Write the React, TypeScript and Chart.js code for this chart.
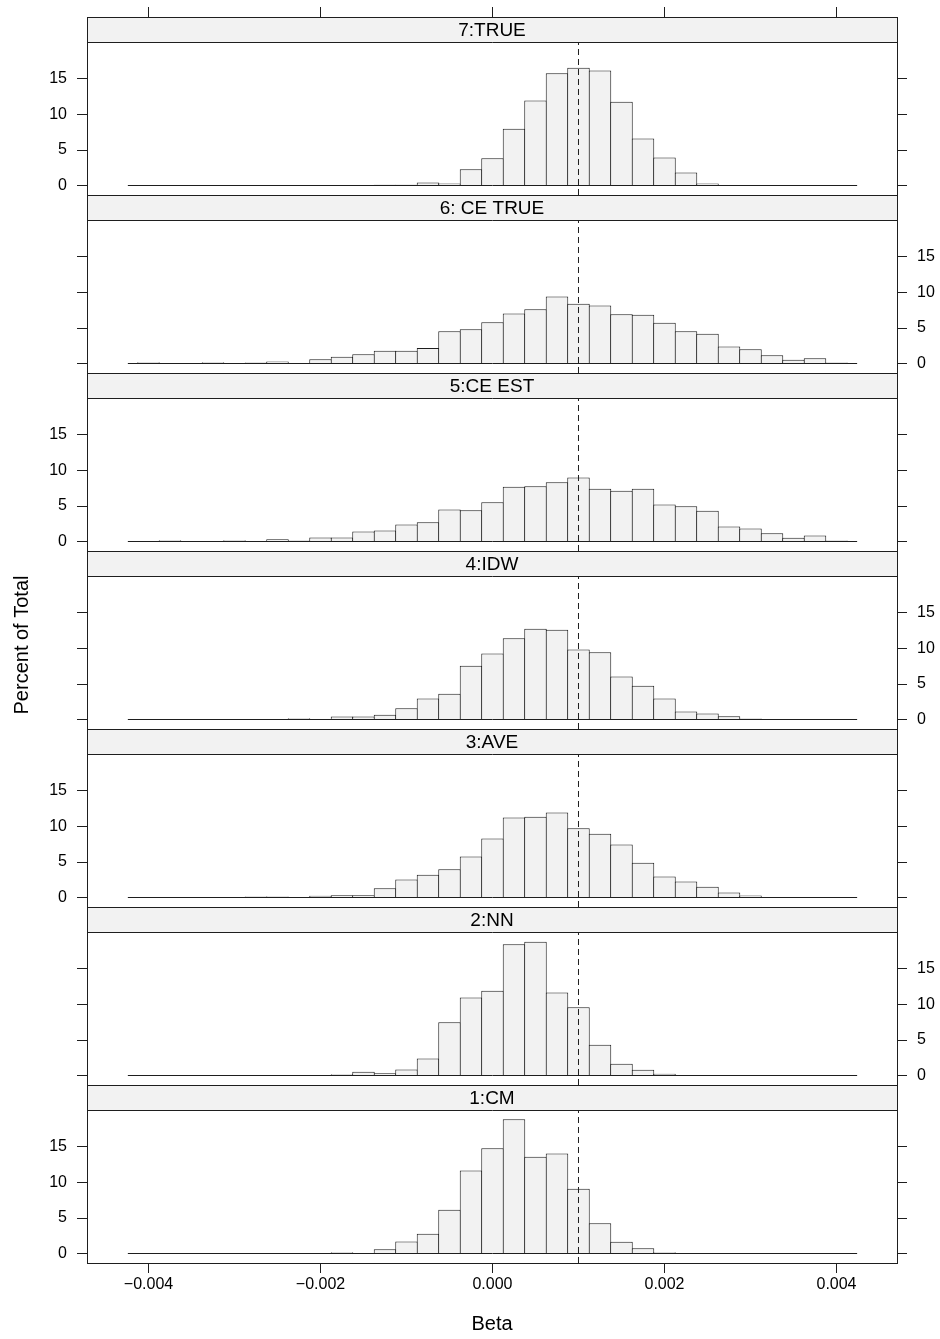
import React, { useEffect, useRef } from 'react';
import { Chart, registerables } from 'chart.js';

Chart.register(...registerables);

// ---------------- data ----------------
const panelNames = ['7:TRUE', '6: CE TRUE', '5:CE EST', '4:IDW', '3:AVE', '2:NN', '1:CM'];

const binCenters = [
  -0.004, -0.00375, -0.0035, -0.00325, -0.003, -0.00275, -0.0025, -0.00225, -0.002, -0.00175,
  -0.0015, -0.00125, -0.001, -0.00075, -0.0005, -0.00025, 0, 0.00025, 0.0005, 0.00075,
  0.001, 0.00125, 0.0015, 0.00175, 0.002, 0.00225, 0.0025, 0.00275, 0.003, 0.00325,
  0.0035, 0.00375, 0.004,
];
const binWidth = 0.00025;
const histRange = [-0.00424, 0.00424];
const trueBeta = 0.001;

const pct7 = [0, 0, 0, 0, 0, 0, 0, 0, 0, 0, 0, 0.1, 0.1, 0.42, 0.28, 2.3, 3.85, 7.98, 11.97, 15.82, 16.57, 16.2, 11.78, 6.62, 3.94, 1.83, 0.28, 0, 0, 0, 0, 0, 0];
const pct6 = [0.19, 0, 0, 0.19, 0, 0.14, 0.28, 0.12, 0.61, 0.94, 1.31, 1.78, 1.78, 2.2, 4.55, 4.84, 5.82, 7.04, 7.63, 9.44, 8.4, 8.17, 6.95, 6.85, 5.73, 4.55, 4.18, 2.39, 2.02, 1.17, 0.52, 0.75, 0.14];
const pct5 = [0, 0.19, 0, 0, 0.19, 0, 0.33, 0.14, 0.56, 0.56, 1.41, 1.55, 2.39, 2.72, 4.51, 4.41, 5.54, 7.7, 7.79, 8.36, 9.01, 7.42, 7.14, 7.42, 5.21, 4.98, 4.32, 2.11, 1.83, 1.17, 0.52, 0.85, 0.14];
const pct4 = [0, 0, 0, 0, 0, 0, 0, 0.19, 0, 0.42, 0.42, 0.66, 1.6, 2.96, 3.62, 7.56, 9.3, 11.46, 12.77, 12.63, 9.86, 9.48, 6.06, 4.74, 2.96, 1.13, 0.85, 0.47, 0.14, 0, 0, 0, 0];
const pct3 = [0, 0, 0, 0, 0, 0.14, 0.14, 0, 0.24, 0.33, 0.33, 1.31, 2.54, 3.19, 3.99, 5.77, 8.31, 11.27, 11.36, 11.97, 9.77, 8.97, 7.46, 4.88, 2.96, 2.25, 1.5, 0.7, 0.28, 0, 0, 0, 0];
const pct2 = [0, 0, 0, 0, 0, 0, 0, 0, 0, 0.19, 0.52, 0.33, 0.85, 2.39, 7.51, 10.99, 11.92, 18.5, 18.83, 11.69, 9.62, 4.32, 1.64, 0.8, 0.23, 0, 0, 0, 0, 0, 0, 0, 0];
const pct1 = [0, 0, 0, 0, 0, 0, 0, 0, 0, 0.19, 0, 0.61, 1.69, 2.77, 6.15, 11.69, 14.84, 18.92, 13.62, 14.08, 9.11, 4.27, 1.64, 0.75, 0.19, 0, 0, 0, 0, 0, 0, 0, 0];
const panelValues = [pct7, pct6, pct5, pct4, pct3, pct2, pct1];

const yTicks = [0, 5, 10, 15];
const xTicks = [-0.004, -0.002, 0, 0.002, 0.004];
const xTickLabels = ['\u22120.004', '\u22120.002', '0.000', '0.002', '0.004'];
const xTitle = 'Beta';
const yTitle = 'Percent of Total';

// ---------------- layout / style ----------------
const W = 940;
const H = 1339;
const FRAME_L = 87;
const FRAME_R = 897;
const TOP = 17;
const PANEL_H = 178;
const STRIP_H = 25;
const X_MIN = -0.004715;
const X_MAX = 0.0047035;
const Y_MIN = -1.337;
const Y_MAX = 20.21;
const LINE = '#1e1e1e';
const FILL = '#F2F2F2';
const FONT = '"Liberation Sans", Arial, Helvetica, sans-serif';

Chart.defaults.font.family = FONT;

const panelPlugin = {
  id: 'panelDecor',
  afterDraw(chart: any, _args: any, opts: any) {
    const { ctx, chartArea: a } = chart;
    ctx.save();
    const L = Math.round(a.left) + 0.5;
    const R = Math.round(a.right) + 0.5;
    const T = Math.round(a.top) + 0.5;
    const B = Math.round(a.bottom) + 0.5;
    const SB = Math.round(a.top + STRIP_H) + 0.5;
    ctx.fillStyle = FILL;
    ctx.fillRect(L, T, R - L, SB - T);
    ctx.strokeStyle = LINE;
    ctx.lineWidth = 1;
    ctx.strokeRect(L, T, R - L, B - T);
    ctx.beginPath();
    ctx.moveTo(L, SB);
    ctx.lineTo(R, SB);
    ctx.stroke();
    ctx.fillStyle = '#000';
    ctx.font = `19px ${FONT}`;
    ctx.textAlign = 'center';
    ctx.textBaseline = 'middle';
    ctx.fillText(opts.label, (a.left + a.right) / 2, a.top + STRIP_H / 2 + 1);
    if (opts.ylab) {
      ctx.translate(22, 645);
      ctx.rotate(-Math.PI / 2);
      ctx.font = `20px ${FONT}`;
      ctx.fillText(opts.ylab, 0, 0);
    }
    ctx.restore();
  },
};

function buildConfig(i: number): any {
  const values = panelValues[i];
  const isTop = i === 0;
  const isBottom = i === panelValues.length - 1;
  const labelsLeft = i % 2 === 0;
  const panelTop = TOP + PANEL_H * i;
  const plotH = PANEL_H - STRIP_H;
  const yExtMax = Y_MAX + (STRIP_H * (Y_MAX - Y_MIN)) / plotH;
  const binPx = (binWidth / (X_MAX - X_MIN)) * (FRAME_R - FRAME_L);
  const tickFont = { family: FONT, size: 16 };
  const xAxisHeight = isTop ? panelTop : isBottom ? H - (panelTop + PANEL_H) : 0;

  const yAxis = (pos: string, showLabels: boolean, width: number) => ({
    type: 'linear',
    position: pos,
    min: Y_MIN,
    max: yExtMax,
    afterBuildTicks: (s: any) => {
      s.ticks = yTicks.map((v) => ({ value: v }));
    },
    afterFit: (s: any) => {
      s.width = width;
      s.paddingTop = 0;
      s.paddingBottom = 0;
      s.paddingLeft = 0;
      s.paddingRight = 0;
    },
    grid: { drawOnChartArea: false, drawTicks: true, tickLength: 10, color: LINE, lineWidth: 1 },
    border: { display: false },
    ticks: { display: showLabels, padding: 10, color: '#000', font: tickFont, autoSkip: false },
  });

  return {
    type: 'bar',
    data: {
      datasets: [
        {
          type: 'line',
          data: [
            { x: trueBeta, y: Y_MIN },
            { x: trueBeta, y: Y_MAX },
          ],
          borderColor: LINE,
          borderWidth: 1,
          borderDash: [6, 4],
          pointRadius: 0,
          xAxisID: 'x',
          yAxisID: 'yL',
          order: 0,
        },
        {
          type: 'line',
          data: [
            { x: histRange[0], y: 0 },
            { x: histRange[1], y: 0 },
          ],
          borderColor: LINE,
          borderWidth: 1,
          pointRadius: 0,
          xAxisID: 'x',
          yAxisID: 'yL',
          order: 1,
        },
        {
          type: 'bar',
          data: binCenters.map((x, k) => ({ x, y: values[k] })),
          backgroundColor: FILL,
          borderColor: LINE,
          borderWidth: 1,
          borderSkipped: 'start',
          barPercentage: (binPx + 1) / binPx,
          categoryPercentage: 1,
          inflateAmount: 0,
          grouped: false,
          xAxisID: 'x',
          yAxisID: 'yL',
          order: 2,
        },
      ],
    },
    options: {
      responsive: false,
      animation: false,
      devicePixelRatio: 1,
      events: [],
      layout: {
        padding: {
          left: 0,
          right: 0,
          top: isTop ? 0 : panelTop,
          bottom: isBottom ? 0 : H - (panelTop + PANEL_H),
        },
      },
      plugins: {
        legend: { display: false },
        tooltip: { enabled: false },
        panelDecor: { label: panelNames[i], ylab: isBottom ? yTitle : '' },
      },
      scales: {
        x: {
          type: 'linear',
          min: X_MIN,
          max: X_MAX,
          offset: false,
          display: isTop || isBottom,
          position: isTop ? 'top' : 'bottom',
          afterBuildTicks: (s: any) => {
            s.ticks = xTicks.map((v) => ({ value: v }));
          },
          afterFit: (s: any) => {
            s.height = xAxisHeight;
            s.paddingLeft = 0;
            s.paddingRight = 0;
          },
          grid: { drawOnChartArea: false, drawTicks: true, tickLength: 10, color: LINE, offset: false },
          border: { display: false },
          ticks: {
            display: isBottom,
            padding: 2,
            maxRotation: 0,
            autoSkip: false,
            color: '#000',
            font: tickFont,
            callback: (_v: any, idx: number) => xTickLabels[idx],
          },
          title: {
            display: isBottom,
            text: xTitle,
            color: '#000',
            font: { family: FONT, size: 20 },
            padding: { top: 4, bottom: 3 },
          },
        },
        yL: yAxis('left', labelsLeft, FRAME_L),
        yR: yAxis('right', !labelsLeft, W - FRAME_R),
      },
    },
    plugins: [panelPlugin],
  };
}

export default function App() {
  const refs = useRef<(HTMLCanvasElement | null)[]>([]);

  useEffect(() => {
    const charts = panelValues.map((_, i) => new Chart(refs.current[i] as HTMLCanvasElement, buildConfig(i)));
    return () => charts.forEach((c) => c.destroy());
  }, []);

  return (
    <div style={{ position: 'absolute', left: 0, top: 0, width: W, height: H, background: '#fff' }}>
      {panelValues.map((_, i) => (
        <canvas
          key={i}
          ref={(el) => {
            refs.current[i] = el;
          }}
          width={W}
          height={H}
          style={{ position: 'absolute', left: 0, top: 0, width: W, height: H }}
        />
      ))}
    </div>
  );
}
